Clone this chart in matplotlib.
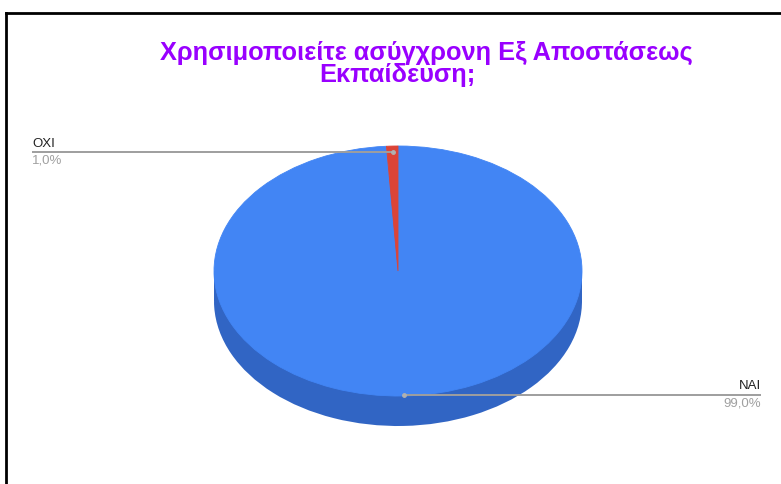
import matplotlib
matplotlib.use("Agg")
import matplotlib.pyplot as plt
from matplotlib.patches import Rectangle
import numpy as np

plt.rcParams['font.family'] = ['Liberation Sans', 'DejaVu Sans']

title_lines = ["Χρησιμοποιείτε ασύγχρονη Εξ Αποστάσεως", "Εκπαίδευση;"]
labels = ["ΝΑΙ", "ΟΧΙ"]
values = [99, 1]
top_colors = ["#4285f4", "#db4437"]
side_colors = ["#3165c4", "#a8342a"]

W, H = 781, 484
cx, cy = 398, 271      # centre of the top face, px
rx, ry = 184, 125      # ellipse radii, px
depth = 30             # thickness of the disc, px

fig = plt.figure(figsize=(W / 100, H / 100), dpi=100)
ax = fig.add_axes([0, 0, 1, 1])

# unit circle in data space -> ellipse on screen
ax.set_xlim((0 - cx) / rx, (W - cx) / rx)
ax.set_ylim((cy - H) / ry, (cy - 0) / ry)
d = depth / ry

# bottom disc + side band, then top face
ax.pie(values, colors=side_colors, startangle=90, counterclock=False,
       center=(0, -d), radius=1, frame=True)
ax.add_patch(Rectangle((-1, -d), 2, d, color=side_colors[0], zorder=1, lw=0))
wedges, _ = ax.pie(values, colors=top_colors, startangle=90, counterclock=False,
                   center=(0, 0), radius=1, frame=True,
                   wedgeprops=dict(linewidth=0.6, edgecolor=top_colors[0]))
for w in wedges:
    w.set_zorder(2)
wedges[1].set_edgecolor(top_colors[1])

ax.set_aspect('auto')
ax.set_xlim((0 - cx) / rx, (W - cx) / rx)
ax.set_ylim((cy - H) / ry, (cy - 0) / ry)
ax.axis('off')

# leader lines and labels
total = sum(values)
label_x = {"ΝΑΙ": (761 - cx) / rx, "ΟΧΙ": (32 - cx) / rx}
label_r = {"ΝΑΙ": 0.99, "ΟΧΙ": 0.95}
for w, lab, v in zip(wedges, labels, values):
    mid = np.deg2rad((w.theta1 + w.theta2) / 2)
    r = label_r[lab]
    px, py = r * np.cos(mid), r * np.sin(mid)
    tx = label_x[lab]
    ax.plot([px, tx], [py, py], color="#9e9e9e", lw=1.4, zorder=3,
            solid_capstyle='butt')
    ax.plot(px, py, 'o', color="#b0b0b0", ms=2.5, zorder=4)
    ha = 'left' if tx < 0 else 'right'
    pct = f"{100 * v / total:.1f}%".replace('.', ',')
    ax.text(tx, py + 2.5 / ry, lab, ha=ha, va='bottom', fontsize=9.5,
            color="#222222")
    ax.text(tx, py - 2.5 / ry, pct, ha=ha, va='top', fontsize=9.5,
            color="#a0a0a0")

# two-line title, each line placed on its own baseline
for txt, x, y in zip(title_lines, [426, 397], [60, 82]):
    fig.text(x / W, 1 - y / H, txt, ha='center', va='baseline', fontsize=18.3,
             fontweight='bold', color="#9900ff")

# frame edges
fig.add_artist(plt.Line2D([6 / W, 1], [1 - 13 / H, 1 - 13 / H],
                          transform=fig.transFigure, color='black', lw=2))
fig.add_artist(plt.Line2D([6 / W, 6 / W], [0, 1 - 13 / H],
                          transform=fig.transFigure, color='black', lw=2))

fig.savefig("out.png", dpi=100, facecolor='white')
